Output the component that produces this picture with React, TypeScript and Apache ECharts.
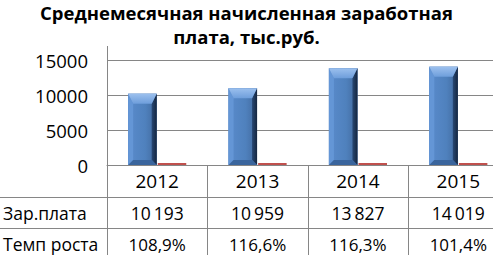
import React, { useEffect, useRef } from "react";
import * as echarts from "echarts";

const years = ["2012", "2013", "2014", "2015"];
const salary = [10193, 10959, 13827, 14019];
const growth = [108.9, 116.6, 116.3, 101.4];
const rowLabels = ["Зар.плата", "Темп роста"];
const titleText = "Среднемесячная начисленная заработная\nплата, тыс.руб.";
const yMin = 0;
const yMax = 15000;
const yStep = 5000;

const FONT = "Open Sans";
const LINE = "#868686";
const BAR_W = 28.5;
const GAP = 1;

const fmtSalary = (v: number) => String(v).replace(/\B(?=(\d{3})+(?!\d))/g, "\u2009");
const fmtGrowth = (v: number) => v.toFixed(1).replace(".", ",") + "%";

export default function App() {
  const ref = useRef<HTMLDivElement>(null);
  useEffect(() => {
    if (!ref.current) return;
    const chart = echarts.init(ref.current, null, { renderer: "svg" });
    const labelBase = { color: "#000", fontFamily: FONT, verticalAlign: "middle" as const };
    const option: any = {
      animation: false,
      grid: { left: 107, top: 60, width: 401.5, height: 105, containLabel: false },
      yAxis: {
        type: "value",
        min: yMin,
        max: yMax,
        interval: yStep,
        axisLine: { show: false },
        axisTick: { show: false },
        axisLabel: {
          margin: 19,
          color: "#000",
          fontFamily: FONT,
          fontSize: 18.5,
          formatter: (v: number) => String(v),
        },
        splitLine: { lineStyle: { color: LINE, width: 1 } },
      },
      xAxis: [
        {
          type: "category",
          data: years,
          position: "bottom",
          axisLine: { show: true, lineStyle: { color: LINE, width: 1 } },
          axisTick: { show: true, length: 32.5, lineStyle: { color: LINE } },
          axisLabel: { ...labelBase, fontSize: 19, margin: 16 },
        },
        {
          type: "category",
          data: salary.map(fmtSalary),
          position: "bottom",
          offset: 32.5,
          axisLine: { show: false },
          axisTick: { show: true, length: 31, lineStyle: { color: LINE } },
          axisLabel: { ...labelBase, fontSize: 17.5, margin: 15 },
        },
        {
          type: "category",
          data: growth.map(fmtGrowth),
          position: "bottom",
          offset: 63.5,
          axisLine: { show: false },
          axisTick: { show: true, length: 30, lineStyle: { color: LINE } },
          axisLabel: { ...labelBase, fontSize: 17, margin: 16 },
        },
      ],
      series: [
        {
          name: "Зар.плата",
          type: "bar",
          xAxisIndex: 0,
          data: salary,
          barWidth: BAR_W,
          barGap: "4%",
          itemStyle: { color: "#4f81bd" },
        },
        {
          name: "Темп роста",
          type: "bar",
          xAxisIndex: 0,
          data: growth,
          barWidth: BAR_W,
          barMinHeight: 2,
          itemStyle: { color: "#c0504d" },
        },
        {
          name: "bevel",
          type: "custom",
          xAxisIndex: 0,
          data: salary.map((v, i) => [i, v]),
          z: 3,
          silent: true,
          renderItem: (params: any, api: any) => {
            const top = api.coord([api.value(0), api.value(1)]);
            const base = api.coord([api.value(0), 0]);
            const x1 = top[0] - GAP / 2;
            const x0 = x1 - BAR_W;
            const y0 = top[1];
            const y1 = base[1];
            const b = 5;
            const t = 10;
            const bb = 5;
            return {
              type: "group",
              children: [
                {
                  type: "rect",
                  shape: { x: x0, y: y0, width: BAR_W, height: y1 - y0 },
                  style: {
                    fill: new echarts.graphic.LinearGradient(0, 0, 1, 0, [
                      { offset: 0, color: "#5a8bcc" },
                      { offset: 0.6, color: "#4f81bd" },
                      { offset: 1, color: "#41689c" },
                    ]),
                  },
                },
                {
                  type: "polygon",
                  shape: { points: [[x0, y0], [x0 + b, y0 + t], [x0 + b, y1 - bb], [x0, y1]] },
                  style: { fill: "#6496d6" },
                },
                {
                  type: "polygon",
                  shape: { points: [[x1, y0], [x1 - b, y0 + t], [x1 - b, y1 - bb], [x1, y1]] },
                  style: {
                    fill: new echarts.graphic.LinearGradient(0, 0, 1, 0, [
                      { offset: 0, color: "#284874" },
                      { offset: 1, color: "#15263f" },
                    ]),
                  },
                },
                {
                  type: "polygon",
                  shape: { points: [[x0, y0], [x1, y0], [x1 - b, y0 + t], [x0 + b, y0 + t]] },
                  style: {
                    fill: new echarts.graphic.LinearGradient(0, 0, 0, 1, [
                      { offset: 0, color: "#9cc0ee" },
                      { offset: 1, color: "#6e9edb" },
                    ]),
                  },
                },
                {
                  type: "polygon",
                  shape: { points: [[x0, y1], [x1, y1], [x1 - b, y1 - bb], [x0 + b, y1 - bb]] },
                  style: { fill: "#3a659d" },
                },
              ],
            };
          },
        },
      ],
      graphic: [
        {
          type: "text",
          x: 246.5,
          y: 0,
          style: {
            text: titleText,
            fontFamily: FONT,
            fontSize: 18.5,
            fontWeight: "bold",
            fill: "#000",
            align: "center",
            verticalAlign: "top",
            lineHeight: 24,
          },
        },
        { type: "line", shape: { x1: 107.5, y1: 46, x2: 107.5, y2: 255 }, style: { stroke: LINE, lineWidth: 1 }, z: 10 },
        { type: "line", shape: { x1: 0, y1: 197.5, x2: 520, y2: 197.5 }, style: { stroke: LINE, lineWidth: 1 } },
        { type: "line", shape: { x1: 0, y1: 228.5, x2: 520, y2: 228.5 }, style: { stroke: LINE, lineWidth: 1 } },
        {
          type: "text",
          x: 3,
          y: 213,
          style: { text: rowLabels[0], fontFamily: FONT, fontSize: 17.5, fill: "#000", verticalAlign: "middle" },
        },
        {
          type: "text",
          x: 3,
          y: 243.5,
          style: { text: rowLabels[1], fontFamily: FONT, fontSize: 17.5, fill: "#000", verticalAlign: "middle" },
        },
      ],
    };
    chart.setOption(option);
    return () => chart.dispose();
  }, []);
  return (
    <div style={{ position: "fixed", left: 0, top: 0, width: 493, height: 255, overflow: "hidden", background: "#fff" }}>
      <div ref={ref} style={{ width: 520, height: 255 }} />
    </div>
  );
}
